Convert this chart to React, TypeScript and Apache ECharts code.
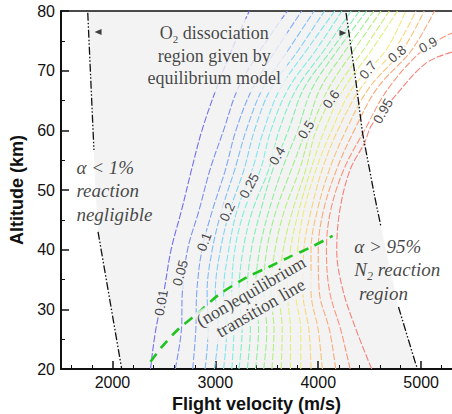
import React, { useEffect, useRef } from "react";
import * as echarts from "echarts";

const SANS = "'Liberation Sans', Arial, Helvetica, sans-serif";
const SERIF = "'Liberation Serif', 'Times New Roman', Times, serif";
const GRAY = "#f3f3f3";

const X_TICKS = [2000, 3000, 4000, 5000];

// Altitudes (km) where each contour's velocity was read
const ALT = [20, 26.5, 33, 40, 46.5, 53.5, 60, 67, 73.5, 80];

const LEVELS = ["0.01", "0.05", "0.1", "0.15", "0.2", "0.25", "0.3", "0.35", "0.4", "0.45", "0.5", "0.55", "0.6", "0.65", "0.7", "0.75", "0.8", "0.85", "0.9", "0.95"];

// velocities (m/s) of each contour at the altitudes in ALT
const c001 = [2370, 2420, 2500, 2570, 2670, 2770, 2870, 3010, 3160, 3330];
const c005 = [2610, 2670, 2680, 2730, 2840, 2950, 3080, 3220, 3440, 3700];
const c010 = [2780, 2810, 2820, 2870, 2970, 3100, 3200, 3360, 3590, 3840];
const c015 = [2900, 2930, 2920, 2970, 3060, 3190, 3300, 3460, 3710, 3960];
const c020 = [2990, 3030, 3000, 3050, 3140, 3280, 3380, 3540, 3810, 4060];
const c025 = [3080, 3110, 3080, 3130, 3210, 3360, 3470, 3630, 3890, 4160];
const c030 = [3160, 3180, 3160, 3190, 3280, 3440, 3540, 3710, 3980, 4230];
const c035 = [3230, 3260, 3230, 3270, 3360, 3520, 3620, 3790, 4060, 4320];
const c040 = [3310, 3340, 3310, 3350, 3440, 3560, 3710, 3860, 4130, 4400];
const c045 = [3390, 3420, 3390, 3430, 3520, 3650, 3800, 3940, 4190, 4470];
const c050 = [3470, 3500, 3470, 3500, 3590, 3740, 3880, 4020, 4270, 4540];
const c055 = [3550, 3570, 3540, 3580, 3670, 3820, 3930, 4100, 4350, 4610];
const c060 = [3640, 3650, 3620, 3660, 3750, 3880, 3980, 4180, 4440, 4690];
const c065 = [3730, 3730, 3700, 3730, 3810, 3930, 4060, 4250, 4520, 4770];
const c070 = [3830, 3830, 3780, 3800, 3860, 3980, 4130, 4330, 4660, 4850];
const c075 = [3930, 3910, 3850, 3860, 3930, 4040, 4190, 4410, 4740, 4950];
const c080 = [4040, 4000, 3930, 3930, 3990, 4110, 4270, 4490, 4820, 5030];
const c085 = [4170, 4110, 4010, 4000, 4050, 4180, 4350, 4570, 4910, 5130];
const c090 = [4310, 4220, 4110, 4080, 4120, 4250, 4450, 4680, 5020];
const c090Tail = [[5300, 76.3]];
const c095 = [[4520, 20], [4370, 26.5], [4240, 33.2], [4180, 39.9], [4210, 46.6], [4310, 53.4], [4450, 57.9], [4520, 60.9], [4740, 65.6], [5050, 71.3], [5320, 73.2]];

const CONTOUR_COLORS = ["#6f6ff2", "#7b8df6", "#7ea6f8", "#7fbdf8", "#7fd3f5", "#7fe5ee", "#7cefe0", "#7cf0c8", "#80f0b0", "#8cf09c", "#9cf08a", "#b2f07e", "#c8f078", "#def07a", "#f0ea7c", "#f8d67a", "#fbc078", "#fca878", "#fc9278", "#f78078"];

// contour value labels
const LABEL_TEXT = ["0.01", "0.05", "0.1", "0.2", "0.25", "0.4", "0.5", "0.6", "0.7", "0.8", "0.9", "0.95"];
const LABEL_V = [2475, 2660, 2893, 3116, 3330, 3602, 3883, 4126, 4485, 4767, 5068, 4631];
const LABEL_ALT = [31.1, 36.1, 41.3, 46.3, 50.7, 55.7, 60.1, 65.2, 70.1, 72.8, 74.3, 63.2];
const LABEL_ROTATION = [80, 75, 70, 65, 62, 60, 58, 55, 50, 40, 30, 60];
const LABEL_ON_WHITE = [false, false, false, false, false, false, false, false, true, true, true, true];

// region boundaries (dash-dot lines)
const LEFT_UPPER = [[1760, 79.7], [1820, 56.7]];
const LEFT_LOWER = [[1860, 43], [2090, 20]];
const RIGHT_UPPER = [[4270, 79.7], [4360, 69], [4430, 59.6], [4550, 48.8], [4610, 43.8]];
const RIGHT_LOWER = [[4780, 30.4], [4950, 20.7], [4970, 20]];
const ARROWS = [[1860, 76.5], [4240, 76.3]];

// shaded equilibrium region
const GRAY_REGION = [[1760, 80], [1760, 79.7], [1820, 56.7], [1835, 50], [1860, 43], [2090, 20], [4970, 20], [4950, 20.7], [4780, 30.4], [4610, 43.8], [4550, 48.8], [4430, 59.6], [4360, 69], [4270, 79.7], [4268, 80]];

// (non)equilibrium transition line
const TRANSITION = [[2370, 21.2], [2480, 23.7], [2630, 26.5], [2840, 29.5], [3030, 32.4], [3300, 35.3], [3520, 37.1], [3740, 38.9], [3950, 40.6], [4140, 42.3]];

const CONTOUR_VELS = [c001, c005, c010, c015, c020, c025, c030, c035, c040, c045, c050, c055, c060, c065, c070, c075, c080, c085];

function buildOption() {
  const contourData: number[][][] = CONTOUR_VELS.map((vels) => vels.map((v, i) => [v, ALT[i]]));
  contourData.push(c090.map((v, i) => [v, ALT[i]]).concat(c090Tail));
  contourData.push(c095);

  const contourSeries = contourData.map((data, k) => ({
    type: "line",
    name: LEVELS[k],
    data,
    smooth: 0.35,
    symbol: "none",
    silent: true,
    z: 2,
    lineStyle: { color: CONTOUR_COLORS[k], width: 1.1, type: [7, 2] },
  }));

  const dashDot = (data: number[][]) => ({
    type: "line",
    data,
    symbol: "none",
    silent: true,
    z: 4,
    lineStyle: { color: "#111", width: 1.3, type: [8, 2, 1.5, 2, 1.5, 2] },
  });

  const labelData = LABEL_TEXT.map((t, i) => ({
    value: [LABEL_V[i], LABEL_ALT[i]],
    label: {
      show: true,
      position: "inside",
      formatter: t,
      rotate: LABEL_ROTATION[i],
      fontFamily: SANS,
      fontSize: 13.5,
      color: "#151515",
      backgroundColor: LABEL_ON_WHITE[i] ? "#ffffff" : GRAY,
      padding: [0, 1],
    },
  }));

  const serifRich = {
    a: { fontFamily: SERIF, fontSize: 18, color: "#151515", lineHeight: 22.5, align: "center" },
    s: { fontFamily: SERIF, fontSize: 11, color: "#151515", lineHeight: 22.5, verticalAlign: "bottom", align: "center" },
  };
  const italicRich = {
    i: { fontFamily: SERIF, fontStyle: "italic", fontSize: 19, color: "#151515", lineHeight: 23.5, align: "left" },
    s: { fontFamily: SERIF, fontStyle: "italic", fontSize: 12, color: "#151515", lineHeight: 23.5, verticalAlign: "bottom", align: "left" },
  };

  const textData = [
    {
      value: [2990, 72.5],
      label: {
        show: true,
        position: "inside",
        align: "center",
        formatter: "{a|O}{s|2}{a| dissociation}\n{a|region given by}\n{a|equilibrium model}",
        rich: serifRich,
        backgroundColor: GRAY,
        padding: [3, 6],
      },
    },
    {
      value: [1650, 49.9],
      label: {
        show: true,
        position: "inside",
        align: "left",
        formatter: "{i|\u03b1 < 1%}\n{i|reaction}\n{i|negligible}",
        rich: italicRich,
      },
    },
    {
      value: [4350, 36.6],
      label: {
        show: true,
        position: "inside",
        align: "left",
        formatter: "{i|\u03b1 > 95%}\n{i|N}{s|2}{i| reaction}\n{i| region}",
        rich: italicRich,
      },
    },
    {
      value: [3393, 31.6],
      label: {
        show: true,
        position: "inside",
        align: "center",
        rotate: 30,
        formatter: "(non)equilibrium\ntransition line",
        fontFamily: SERIF,
        fontSize: 18,
        lineHeight: 19,
        color: "#151515",
        backgroundColor: GRAY,
        padding: [0, 0],
      },
    },
  ];

  return {
    animation: false,
    backgroundColor: "#ffffff",
    grid: { left: 61, right: 0, top: 11, bottom: 45, containLabel: false, outerBoundsMode: "none" },
    xAxis: [
      {
        type: "value",
        min: 1500,
        max: 5300,
        splitNumber: 4,
        position: "bottom",
        name: "Flight velocity (m/s)",
        nameLocation: "middle",
        nameGap: 22,
        nameTextStyle: { fontFamily: SANS, fontWeight: "bold", fontSize: 18, color: "#111" },
        axisLine: { lineStyle: { color: "#111", width: 2 } },
        axisTick: { inside: true, length: 8, customValues: X_TICKS, lineStyle: { color: "#111", width: 1.5 } },
        minorTick: { show: true, splitNumber: 5, length: 4, lineStyle: { color: "#111", width: 1 } },
        axisLabel: { customValues: X_TICKS, formatter: (v: number) => String(v), fontFamily: SANS, fontSize: 16, color: "#111", margin: 5 },
        splitLine: { show: false },
      },
      {
        type: "value",
        min: 1500,
        max: 5300,
        position: "top",
        axisLine: { lineStyle: { color: "#111", width: 1.6 } },
        axisTick: { show: false },
        axisLabel: { show: false },
        splitLine: { show: false },
      },
    ],
    yAxis: {
      type: "value",
      min: 20,
      max: 80,
      interval: 10,
      name: "Altitude (km)",
      nameLocation: "middle",
      nameGap: 35,
      nameTextStyle: { fontFamily: SANS, fontWeight: "bold", fontSize: 18, color: "#111" },
      axisLine: { show: true, lineStyle: { color: "#111", width: 2 } },
      axisTick: { show: true, inside: true, length: 8, lineStyle: { color: "#111", width: 1.5 } },
      minorTick: { show: true, splitNumber: 2, length: 4, lineStyle: { color: "#111", width: 1 } },
      axisLabel: { formatter: (v: number) => String(v), fontFamily: SANS, fontSize: 16, color: "#111", margin: 6 },
      splitLine: { show: false },
    },
    series: [
      {
        type: "custom",
        silent: true,
        z: 0,
        clip: true,
        data: [[3000, 50]],
        renderItem: (_params: any, api: any) => ({
          type: "polygon",
          shape: { points: GRAY_REGION.map((p) => api.coord(p)) },
          style: { fill: GRAY },
        }),
      },
      ...contourSeries,
      dashDot(LEFT_UPPER),
      dashDot(LEFT_LOWER),
      dashDot(RIGHT_UPPER),
      dashDot(RIGHT_LOWER),
      {
        type: "line",
        data: TRANSITION,
        smooth: 0.3,
        symbol: "none",
        silent: true,
        z: 5,
        lineStyle: { color: "#1fc41f", width: 2.6, type: [10, 7] },
      },
      {
        type: "scatter",
        silent: true,
        z: 6,
        data: [
          { value: ARROWS[0], symbolRotate: 90 },
          { value: ARROWS[1], symbolRotate: -90 },
        ],
        symbol: "triangle",
        symbolSize: [6, 7],
        itemStyle: { color: "#111" },
      },
      {
        type: "scatter",
        silent: true,
        z: 7,
        symbolSize: 0,
        data: labelData,
      },
      {
        type: "scatter",
        silent: true,
        z: 8,
        symbolSize: 0,
        data: textData,
      },
    ],
  };
}

export default function App() {
  const ref = useRef<HTMLDivElement>(null);
  useEffect(() => {
    if (!ref.current) return;
    const chart = echarts.init(ref.current, undefined, { renderer: "svg" });
    chart.setOption(buildOption() as any);
    return () => chart.dispose();
  }, []);
  return (
    <div
      ref={ref}
      style={{ position: "absolute", left: 0, top: 0, width: 452, height: 414, background: "#fff" }}
    />
  );
}
